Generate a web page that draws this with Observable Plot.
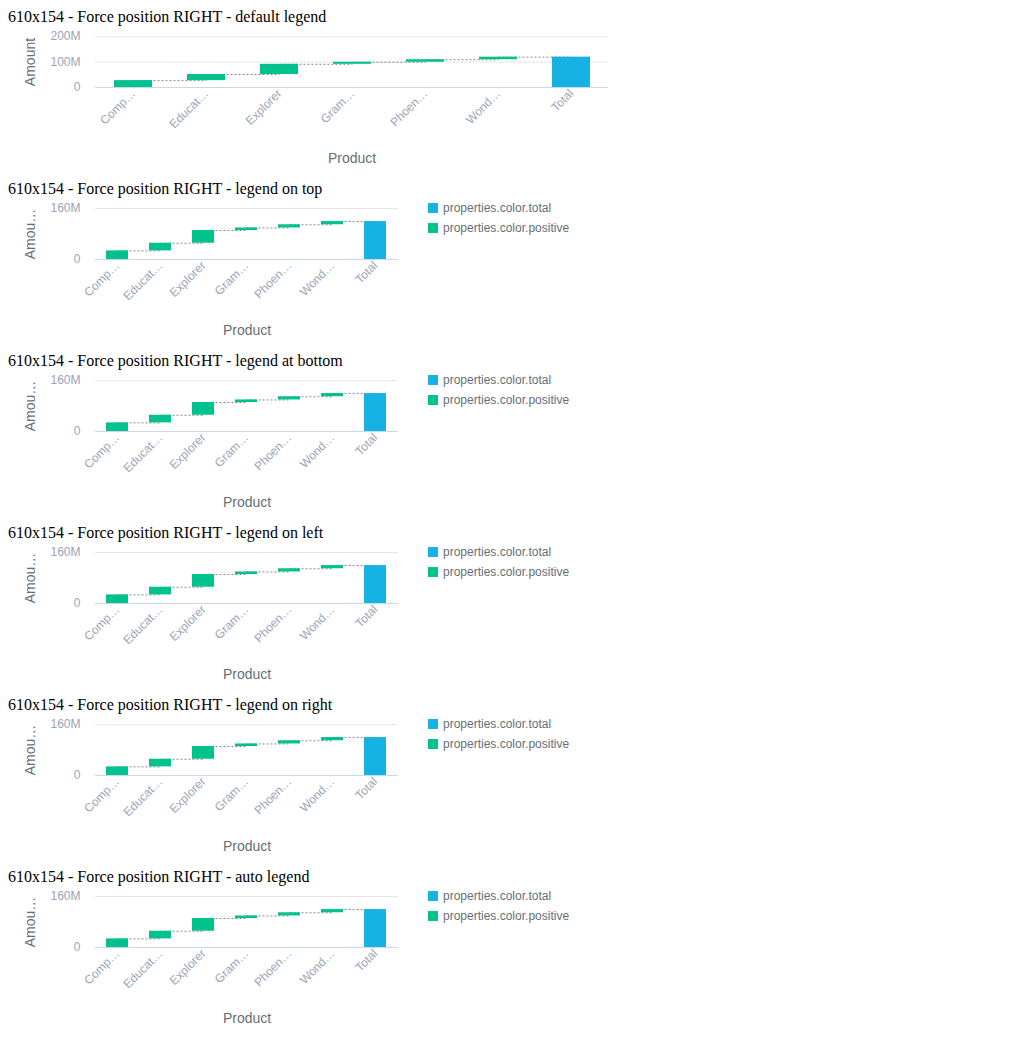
<!DOCTYPE html>
<html><head><meta charset="utf-8">
<script src="https://cdn.jsdelivr.net/npm/d3@7"></script>
<script src="https://cdn.jsdelivr.net/npm/@observablehq/plot@0.6"></script>
<style>
body{margin:8px;background:#fff;}
.block{position:relative;width:1000px;height:172px;}
.title{font-family:"Liberation Serif","Times New Roman",serif;font-size:16px;line-height:18px;height:18px;color:#000;white-space:nowrap;}
.chart{position:absolute;left:0;top:18px;}
.legendbox{position:absolute;left:420px;top:18px;}
svg g[aria-label="y-axis label"], svg g[aria-label="x-axis label"]{fill:#666e7a;font-size:14px;}
.lg-swatch{height:20px !important;padding-bottom:0 !important;margin:0 !important;}
.lg-swatch svg{margin-right:5px !important;}
</style>
</head><body>
<div id="root"></div>
<script>
// ---- data ----
const categories = ["Comp…", "Educat…", "Explorer", "Gram…", "Phoen…", "Wond…", "Total"];
const deltas = [27e6, 24e6, 40e6, 8e6, 10e6, 10e6, null];
const kinds = ["positive", "positive", "positive", "positive", "positive", "positive", "total"];
const seriesLabels = {total: "properties.color.total", positive: "properties.color.positive"};
const colorDomain = ["properties.color.total", "properties.color.positive"];
const colorRange = ["#15b2e3", "#00c28f"];
const titles = [
  "610x154 - Force position RIGHT - default legend",
  "610x154 - Force position RIGHT - legend on top",
  "610x154 - Force position RIGHT - legend at bottom",
  "610x154 - Force position RIGHT - legend on left",
  "610x154 - Force position RIGHT - legend on right",
  "610x154 - Force position RIGHT - auto legend"
];
const yTicksWide = [0, 100e6, 200e6];
const yTicksNarrow = [0, 160e6];
const yLabelWide = "Amount";
const yLabelNarrow = "Amou…";
const xLabel = "Product";

// ---- build waterfall table ----
let cum = 0;
const rows = categories.map((c, i) => {
  if (kinds[i] === "total") return {cat: c, start: 0, end: cum, series: seriesLabels.total};
  const s = cum; cum += deltas[i];
  return {cat: c, start: s, end: cum, series: seriesLabels.positive};
});
const links = rows.slice(0, -1).map((r, i) => ({from: r.cat, to: rows[i + 1].cat, level: r.end}));

const fmt = d => d === 0 ? "0" : (d / 1e6) + "M";

function makeChart(width, marginRight, ymax, ticks, ylabel) {
  return Plot.plot({
    width, height: 154,
    marginLeft: 87, marginRight, marginTop: 10, marginBottom: 93,
    style: {fontFamily: '"Liberation Sans", Arial, sans-serif', fontSize: "12px", color: "#9aa5b8", background: "transparent", overflow: "visible"},
    x: {domain: categories, paddingInner: 0.48, paddingOuter: 0.24},
    y: {domain: [0, ymax]},
    color: {domain: colorDomain, range: colorRange},
    marks: [
      Plot.gridY(ticks, {stroke: "#e6e6e6", strokeOpacity: 1}),
      Plot.ruleY([0], {stroke: "#ccd6eb"}),
      Plot.link(links, {x1: "from", x2: "to", y1: "level", y2: "level", stroke: "#888", strokeDasharray: "2,2", strokeWidth: 1}),
      Plot.barY(rows, {x: "cat", y1: "start", y2: "end", fill: "series"}),
      Plot.axisY({ticks, tickFormat: fmt, tickSize: 0, tickPadding: 15, label: ylabel, labelAnchor: "center", labelArrow: "none", labelOffset: 70}),
      Plot.axisX({tickRotate: -45, tickSize: 0, tickPadding: 4, label: xLabel, labelAnchor: "center", labelArrow: "none", labelOffset: 75})
    ]
  });
}

const root = document.getElementById("root");
titles.forEach((t, k) => {
  const block = document.createElement("div");
  block.className = "block";
  const title = document.createElement("div");
  title.className = "title";
  title.textContent = t;
  block.appendChild(title);
  const wrap = document.createElement("div");
  wrap.className = "chart";
  let chart;
  if (k === 0) {
    chart = makeChart(610, 10, 200e6, yTicksWide, yLabelWide);
  } else {
    chart = makeChart(410, 20, 160e6, yTicksNarrow, yLabelNarrow);
  }
  wrap.appendChild(chart);
  block.appendChild(wrap);
  if (k > 0) {
    const lg = chart.legend("color", {columns: 1, swatchSize: 10, className: "lg",
      style: {fontFamily: '"Liberation Sans", Arial, sans-serif', fontSize: "12px", color: "#666e7a"}});
    const box = document.createElement("div");
    box.className = "legendbox";
    box.appendChild(lg);
    block.appendChild(box);
  }
  root.appendChild(block);
});
</script>
</body></html>
